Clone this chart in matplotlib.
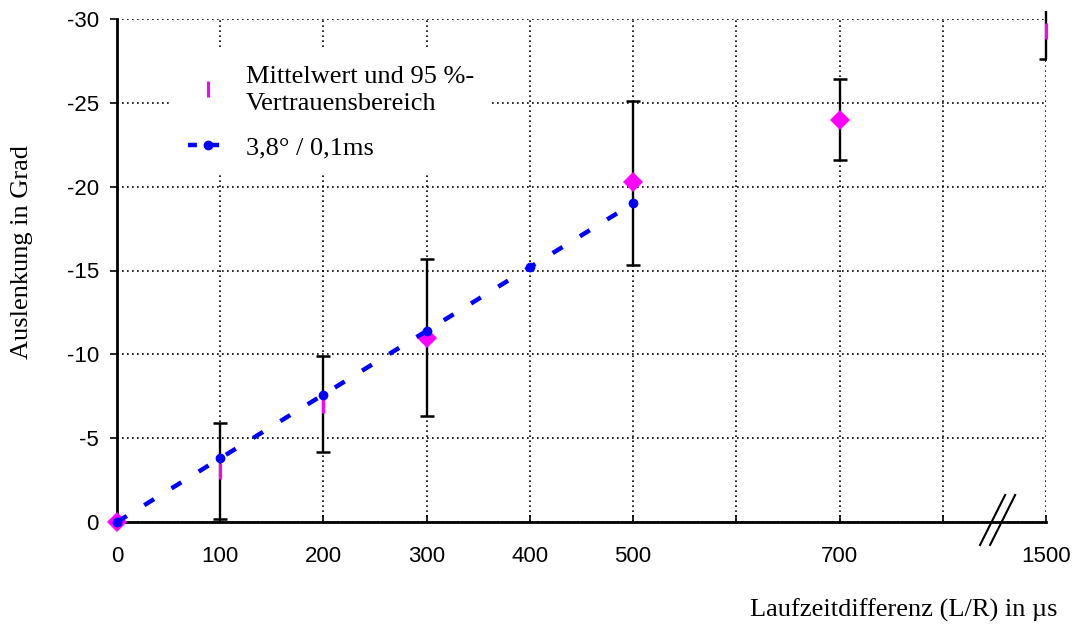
import matplotlib
matplotlib.use("Agg")
import matplotlib.pyplot as plt
from matplotlib.lines import Line2D

plt.rcParams['axes.unicode_minus'] = False

# ---- data ----
x_values = [0, 100, 200, 300, 500, 700, 1500]
mean_values = [0.0, -3.05, -7.0, -11.0, -20.3, -24.0, -29.3]
ci_upper = [0.0, -5.9, -9.9, -15.7, -25.1, -26.4, -30.5]   # more negative end
ci_lower = [0.0, -0.2, -4.2, -6.3, -15.3, -21.6, -27.6]    # less negative end
mean_marker = ['D', '|', '|', 'D', 'D', 'D', '|']
upper_cap = [False, True, True, True, True, True, False]
lower_cap = [False, True, True, True, True, True, True]

model_x = [0, 100, 200, 300, 400, 500]
model_y = [0.0, -3.8, -7.6, -11.4, -15.2, -19.0]

tick_values = [0, 100, 200, 300, 400, 500, 600, 700, 800, 1500]
tick_labels = ['0', '100', '200', '300', '400', '500', '', '700', '', '1500']
y_ticks = [0, -5, -10, -15, -20, -25, -30]
y_tick_labels = ['0', '-5', '-10', '-15', '-20', '-25', '-30']

legend_labels = ['Mittelwert und 95 %-\nVertrauensbereich', '3,8° / 0,1ms']
x_label = 'Laufzeitdifferenz (L/R) in µs'
y_label = 'Auslenkung in Grad'

# broken axis: each value sits at its index in tick_values
def pos(v):
    return tick_values.index(v)

serif = 'Liberation Serif'
sans = 'Liberation Sans'
MAG = '#FF00FF'
BLUE = '#0000FF'

fig = plt.figure(figsize=(10.76, 6.26), dpi=100)
ax = fig.add_axes([117/1076, 1 - 522/626, (1046-117)/1076, (522-19)/626])

ax.set_xlim(0, len(tick_values) - 1)
ax.set_ylim(0, -30)

# grid
ax.set_xticks(range(len(tick_values)))
ax.set_xticklabels(tick_labels, fontfamily=sans, fontsize=16)
ax.set_yticks(y_ticks)
ax.set_yticklabels(y_tick_labels, fontfamily=sans, fontsize=16)
ax.grid(True, color='black', linestyle=(0, (1, 2.0)), linewidth=1.2, zorder=0)
ax.tick_params(axis='x', direction='in', length=5, width=1.2, pad=17)
ax.tick_params(axis='y', direction='out', length=5, width=1.2, pad=8)
for s in ['top', 'right']:
    ax.spines[s].set_visible(False)
for s in ['left', 'bottom']:
    ax.spines[s].set_linewidth(2)

# error bars
xs = [pos(v) for v in x_values]
for x, up, lo, uc, lc in zip(xs, ci_upper, ci_lower, upper_cap, lower_cap):
    if up == lo:
        continue
    ax.plot([x, x], [lo, up], color='black', lw=1.7, zorder=3, clip_on=False,
            solid_capstyle='butt')
    if uc:
        ax.plot([x], [up], marker='_', color='black', ms=10, mew=1.8, zorder=3)
    if lc:
        ax.plot([x], [lo], marker='_', color='black', ms=10, mew=1.8, zorder=3)

# means
for x, m, mk in zip(xs, mean_values, mean_marker):
    if mk == 'D':
        ax.plot([x], [m], marker='D', color=MAG, ms=10, mew=0, zorder=4,
                clip_on=False)
    else:
        ax.plot([x], [m], marker='|', color=MAG, ms=12, mew=2.2, zorder=4,
                clip_on=False)

# model line
ax.plot([pos(v) for v in model_x], model_y, color=BLUE, lw=3.2,
        linestyle=(0, (2.6, 4.6)), dash_capstyle='butt', marker='o', ms=6,
        zorder=5, clip_on=False)

# axis break marks
for dx in (0.0, 0.0108):
    ax.plot([0.929 + dx, 0.956 + dx], [-0.0457, 0.0537], transform=ax.transAxes,
            color='black', lw=1.5, clip_on=False, zorder=6)

# legend
h1 = Line2D([], [], marker='|', color=MAG, linestyle='none', ms=12, mew=2.2)
h2 = Line2D([], [], color=BLUE, lw=3.2, linestyle=(0, (2.0, 3.0)),
            dash_capstyle='butt', marker='o', ms=6)
leg = ax.legend([h1, h2], legend_labels, loc='upper left',
                bbox_to_anchor=(0.045, 0.965), prop={'family': serif, 'size': 19},
                frameon=True, facecolor='white', edgecolor='none', framealpha=1,
                fancybox=False, handlelength=1.5, handletextpad=0.7,
                labelspacing=0.8, borderpad=0.6, numpoints=1)
leg.get_texts()[0].set_linespacing(1.3)
leg.set_zorder(7)

fig.text(1057/1076, 1 - 610/626, x_label, ha='right', va='center',
         fontfamily=serif, fontsize=19)
fig.text(22/1076, 1 - 252/626, y_label, ha='center', va='center', rotation=90,
         fontfamily=serif, fontsize=19)

fig.savefig('out.png', dpi=100)
